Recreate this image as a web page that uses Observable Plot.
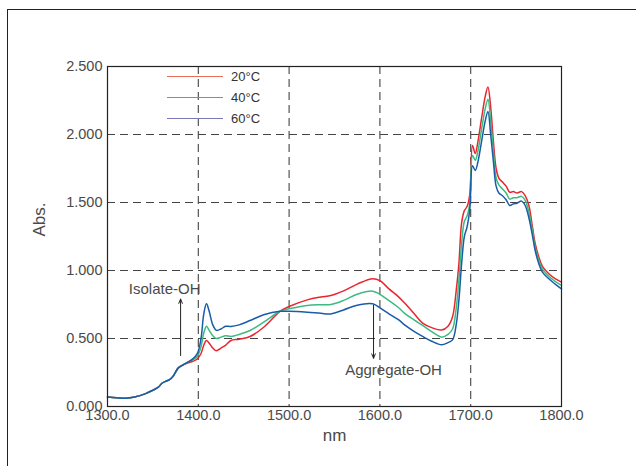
<!DOCTYPE html>
<html>
<head>
<meta charset="utf-8">
<script src="https://cdn.jsdelivr.net/npm/d3@7"></script>
<script src="https://cdn.jsdelivr.net/npm/@observablehq/plot@0.6"></script>
<style>
  html, body { margin: 0; padding: 0; background: #fff; }
  #wrap { position: relative; width: 636px; height: 466px; overflow: hidden; font-family: "Liberation Sans", Arial, sans-serif; }
  #border { position: absolute; left: 7px; top: 9px; width: 660px; height: 480px; border: 1.5px solid #222; box-sizing: border-box; }
  #chart { position: absolute; left: 0; top: 0; }
  #legend { position: absolute; left: 167px; top: 66px; font-size: 13px; color: #333; }
  #legend .row { display: flex; align-items: center; height: 21px; }
  #legend .sw { width: 56px; height: 0; border-top: 1.3px solid; margin-right: 8px; }
</style>
</head>
<body>
<div id="wrap">
  <div id="border"></div>
  <div id="chart"></div>
  <div id="legend"></div>
</div>
<script>
// Wavelengths (nm)
const nm = [1300,1310,1320,1330,1342,1350,1356,1360,1364,1368,1372,1378,1383,1388,
  1394,1399,1403,1406,1409,1412,1416,1420,1425,1430,1436,1445,1457,1472,1490,1500,1520,1535,1546,1560,1575,1592,1600,1610,1620,1628,1638,1647,1657,1668,
  1675,1680,1684,1687,1690,1693,1696,1699,1702,1705,1708,1712,1716,1719,1722,1725,1728,1731,1735,1739,1743,1747,1751,1756,1760,1764,1768,1771,1775,1779,1786,1793,1800];

const abs20 = [0.07,0.065,0.061,0.07,0.095,0.12,0.142,0.171,0.185,0.195,0.22,0.284,0.305,0.32,
  0.333,0.35,0.39,0.45,0.485,0.465,0.43,0.41,0.43,0.45,0.485,0.495,0.515,0.583,0.70,0.735,0.784,0.805,0.816,0.85,0.90,0.94,0.925,0.865,0.81,0.755,0.68,0.613,0.58,0.562,
  0.59,0.66,0.85,1.05,1.35,1.44,1.47,1.56,1.92,1.86,1.95,2.12,2.28,2.35,2.2,1.95,1.75,1.68,1.65,1.62,1.575,1.58,1.57,1.58,1.55,1.48,1.32,1.2,1.1,1.03,0.976,0.94,0.914];

const abs40 = [0.07,0.065,0.061,0.07,0.095,0.12,0.142,0.171,0.185,0.195,0.22,0.284,0.305,0.325,
  0.345,0.37,0.44,0.54,0.59,0.56,0.52,0.50,0.51,0.52,0.515,0.53,0.559,0.62,0.70,0.718,0.743,0.748,0.75,0.78,0.825,0.848,0.825,0.779,0.73,0.681,0.635,0.596,0.55,0.51,
  0.53,0.57,0.72,0.93,1.2,1.36,1.40,1.5,1.846,1.81,1.88,2.04,2.19,2.26,2.1,1.88,1.68,1.63,1.6,1.57,1.525,1.535,1.535,1.545,1.515,1.43,1.29,1.17,1.075,1.01,0.958,0.92,0.89];

const abs60 = [0.07,0.065,0.061,0.07,0.095,0.12,0.142,0.171,0.185,0.195,0.22,0.284,0.305,0.325,
  0.35,0.39,0.5,0.68,0.755,0.70,0.60,0.56,0.57,0.59,0.588,0.60,0.632,0.674,0.70,0.70,0.693,0.685,0.681,0.71,0.745,0.755,0.725,0.681,0.64,0.596,0.55,0.515,0.48,0.454,
  0.47,0.49,0.6,0.78,1.05,1.25,1.32,1.45,1.77,1.735,1.8,1.95,2.1,2.17,2.0,1.8,1.62,1.57,1.55,1.52,1.478,1.49,1.495,1.51,1.478,1.39,1.257,1.147,1.05,0.988,0.939,0.9,0.865];

const seriesNames = ["20°C", "40°C", "60°C"];
const seriesColors = ["#e8262e", "#3dba82", "#1a5ca8"];
const legendColors = ["#e8705a", "#2fbf6e", "#7a78b8"];

const xTicks = [1300,1400,1500,1600,1700,1800];
const yTicks = [0,0.5,1,1.5,2,2.5];
const xLabel = "nm";
const yLabel = "Abs.";

// Annotations
const annoText = ["Isolate-OH", "Aggregate-OH"];
const annoTextX = [1363, 1615];
const annoTextY = [0.86, 0.265];
const arrowX = [1380.5, 1593];
const arrowY1 = [0.375, 0.745];
const arrowY2 = [0.79, 0.355];

const series = [abs20, abs40, abs60];
const data = [];
series.forEach((vals, s) => vals.forEach((v, i) => data.push({nm: nm[i], abs: v, s: seriesNames[s]})));
const annos = annoText.map((t, i) => ({t, x: annoTextX[i], y: annoTextY[i]}));
const arrows = arrowX.map((x, i) => ({x, y1: arrowY1[i], y2: arrowY2[i]}));

const chart = Plot.plot({
  width: 636,
  height: 466,
  marginLeft: 107,
  marginRight: 75,
  marginTop: 66,
  marginBottom: 60,
  style: {fontFamily: "Liberation Sans, Arial, sans-serif", fontSize: "14.5px", background: "transparent", color: "#444"},
  x: {domain: [1300, 1800]},
  y: {domain: [0, 2.5]},
  color: {domain: seriesNames, range: seriesColors},
  marks: [
    Plot.gridX(xTicks.slice(1, -1), {stroke: "#444", strokeOpacity: 1, strokeDasharray: "8,5", strokeWidth: 1.1}),
    Plot.gridY(yTicks.slice(1, -1), {stroke: "#444", strokeOpacity: 1, strokeDasharray: "8,5", strokeWidth: 1.1}),
    Plot.axisX(xTicks, {tickSize: 0, tickPadding: 3, fontSize: 14.5, fill: "#4a4a4a", tickFormat: d => d.toFixed(1), label: null}),
    Plot.axisY(yTicks, {tickSize: 0, tickPadding: 5, fontSize: 14.5, fill: "#4a4a4a", tickFormat: d => d.toFixed(3), label: null}),
    Plot.text([xLabel], {frameAnchor: "bottom", dy: 34, fontSize: 17, fill: "#4a4a4a"}),
    Plot.text([yLabel], {frameAnchor: "left", dx: -68, rotate: -90, fontSize: 17, fill: "#4a4a4a"}),
    Plot.line(data, {x: "nm", y: "abs", z: "s", stroke: "s", strokeWidth: 1.5, curve: "catmull-rom"}),
    Plot.arrow(arrows, {x1: "x", x2: "x", y1: "y1", y2: "y2", stroke: "#222", strokeWidth: 1, headLength: 7, headAngle: 45}),
    Plot.text(annos, {x: "x", y: "y", text: "t", fontSize: 15, fill: "#4a4a4a"}),
    Plot.frame({stroke: "#222", strokeWidth: 1.2})
  ]
});
document.getElementById("chart").appendChild(chart);

const leg = document.getElementById("legend");
seriesNames.forEach((n, i) => {
  const row = document.createElement("div");
  row.className = "row";
  const sw = document.createElement("div");
  sw.className = "sw";
  sw.style.borderTopColor = legendColors[i];
  const lab = document.createElement("span");
  lab.textContent = n;
  row.appendChild(sw); row.appendChild(lab);
  leg.appendChild(row);
});
</script>
</body>
</html>
